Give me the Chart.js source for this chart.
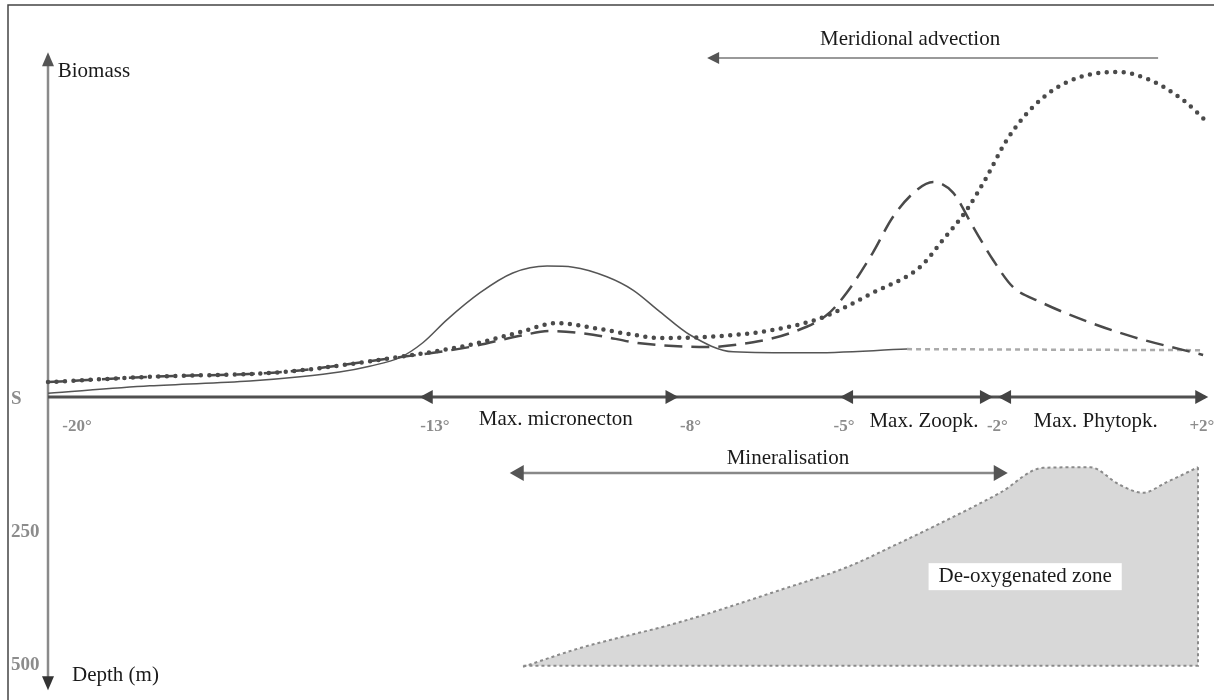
<!DOCTYPE html>
<html>
<head>
<meta charset="utf-8">
<title>Biomass maxima and de-oxygenated zone</title>
<script src="https://cdn.jsdelivr.net/npm/chart.js@4.4.1/dist/chart.umd.min.js"></script>
<style>
  html, body { margin: 0; padding: 0; background: #fff; }
  #wrap { width: 1214px; height: 700px; position: relative; }
</style>
</head>
<body>
<div id="wrap"><canvas id="myChart"></canvas></div>
<script>
// latitude in degrees, biomass in relative units (same vertical units as depth in m)
var micronectonLat = [-20.43, -18.44, -16.48, -15.50, -14.73, -14.14, -13.55, -13.10, -12.63, -11.98, -11.34, -10.67, -10.16, -9.50, -8.99, -8.46, -7.88, -7.03, -5.59, -3.63];
var micronectonBio = [7, 21, 30, 38, 47, 58, 74, 102, 145, 196, 233, 246, 244, 226, 201, 160, 117, 85, 83, 90];
var micronectonTailLat = [-3.63, 2.16];
var micronectonTailBio = [90, 88];

var zoopkLat = [-20.43, -18.44, -15.84, -13.94, -12.18, -11.20, -10.61, -9.77, -8.85, -7.54, -6.64, -5.92, -5.20, -4.81, -4.30, -3.91, -3.44, -3.12, -2.73, -2.34, -1.95, -1.56, -1.03, -0.19, 0.79, 2.16];
var zoopkBio = [28, 38, 47, 70, 94, 115, 124, 117, 101, 94, 103, 120, 154, 196, 271, 338, 389, 404, 384, 320, 258, 207, 179, 145, 113, 79];

var phytopkLat = [-20.43, -18.44, -15.84, -13.94, -12.18, -11.20, -10.48, -9.77, -8.99, -8.46, -7.54, -6.25, -5.27, -4.30, -3.38, -2.93, -2.46, -2.07, -1.68, -1.17, -0.50, 0.48, 1.12, 1.77, 2.26];
var phytopkBio = [28, 38, 47, 70, 98, 122, 139, 130, 117, 111, 113, 126, 150, 196, 244, 295, 352, 414, 483, 545, 592, 611, 596, 558, 515];

// upper limit of the de-oxygenated zone (depth, m)
var zoneLat = [-11.14, -10.03, -8.07, -6.12, -4.81, -3.77, -3.12, -1.81, -0.97, -0.05, 0.53, 0.98, 1.45, 2.06];
var zoneTop = [507, 472, 423, 363, 320, 274, 244, 180, 133, 132, 165, 180, 160, 132];
var zoneBottom = 505;

// arrows
var axisStart = -20.43, axisEnd = 2.2;
var axisHeadLat = [-13.16, -8.1, -4.94, -1.95, -1.85, 2.26];
var axisHeadDir = [-1, 1, -1, 1, -1, 1];
var biomassTop = 648, depthBottom = 551;
var advectionLat = [-7.54, 1.28], advectionLevel = 637;
var mineralLat = [-11.40, -1.66], mineralDepth = 143;

var latTicks = [-20, -13, -8, -5, -2, 2];
var latTickLabels = ["-20°", "-13°", "-8°", "-5°", "-2°", "+2°"];
var depthTicks = [0, 250, 500];
var depthTickLabels = ["S", "250", "500"];

function pts(xs, ys) {
  return xs.map(function (x, i) { return { x: x, y: ys[i] }; });
}

var notes = [
  { text: "Biomass", x: -20.24, y: 601, align: "left" },
  { text: "Depth (m)", x: -19.96, y: -534, align: "left" },
  { text: "Meridional advection", x: -3.57, y: 662, align: "center" },
  { text: "Max. micronecton", x: -10.50, y: -53, align: "center" },
  { text: "Max. Zoopk.", x: -3.30, y: -56, align: "center" },
  { text: "Max. Phytopk.", x: 0.06, y: -56, align: "center" },
  { text: "Mineralisation", x: -5.96, y: -126, align: "center" },
  { text: "De-oxygenated zone", x: -1.32, y: -348, align: "center", box: true }
];

function head(ctx, x, y, ang, len, half, color) {
  var c = Math.cos(ang), s = Math.sin(ang);
  ctx.beginPath();
  ctx.moveTo(x, y);
  ctx.lineTo(x - len * c - half * s, y - len * s + half * c);
  ctx.lineTo(x - len * c + half * s, y - len * s - half * c);
  ctx.closePath();
  ctx.fillStyle = color;
  ctx.fill();
}

var sketch = {
  id: "sketch",
  beforeDraw: function (chart) {
    var ctx = chart.ctx;
    ctx.save();
    ctx.strokeStyle = "#444";
    ctx.lineWidth = 1.5;
    ctx.beginPath();
    ctx.moveTo(8, 700);
    ctx.lineTo(8, 5);
    ctx.lineTo(1214, 5);
    ctx.stroke();
    ctx.restore();
  },
  afterDatasetsDraw: function (chart) {
    var ctx = chart.ctx, xs = chart.scales.x, ys = chart.scales.y;
    ctx.save();
    // arrow heads
    axisHeadLat.forEach(function (lat, i) {
      head(ctx, xs.getPixelForValue(lat), ys.getPixelForValue(0), axisHeadDir[i] > 0 ? 0 : Math.PI, 13, 7, "#444");
    });
    var ax = xs.getPixelForValue(axisStart);
    head(ctx, ax, ys.getPixelForValue(biomassTop), -Math.PI / 2, 14, 6, "#555");
    head(ctx, ax, ys.getPixelForValue(-depthBottom), Math.PI / 2, 14, 6, "#333");
    head(ctx, xs.getPixelForValue(advectionLat[0]), ys.getPixelForValue(advectionLevel), Math.PI, 12, 6, "#555");
    head(ctx, xs.getPixelForValue(mineralLat[0]), ys.getPixelForValue(-mineralDepth), Math.PI, 14, 8, "#555");
    head(ctx, xs.getPixelForValue(mineralLat[1]), ys.getPixelForValue(-mineralDepth), 0, 14, 8, "#555");

    // depth tick labels
    ctx.font = "bold 19px 'Liberation Serif'";
    ctx.fillStyle = "#8c8c8c";
    ctx.textAlign = "left";
    ctx.textBaseline = "middle";
    depthTicks.forEach(function (d, i) {
      ctx.fillText(depthTickLabels[i], 11, ys.getPixelForValue(-d) + 2);
    });

    // annotations
    ctx.font = "21px 'Liberation Serif'";
    ctx.textBaseline = "alphabetic";
    notes.forEach(function (n) {
      var px = xs.getPixelForValue(n.x), py = ys.getPixelForValue(n.y);
      ctx.textAlign = n.align;
      if (n.box) {
        var w = ctx.measureText(n.text).width + 20;
        ctx.fillStyle = "#fff";
        ctx.fillRect(px - w / 2, py - 19, w, 27);
      }
      ctx.fillStyle = "#1a1a1a";
      ctx.fillText(n.text, px, py);
    });
    ctx.restore();
  }
};

document.addEventListener("DOMContentLoaded", function () {
  var ctx = document.getElementById("myChart").getContext("2d");

  var plain = { pointRadius: 0, fill: false, clip: false, tension: 0 };

  var chartData = {
    datasets: [
      Object.assign({}, plain, {
        label: "Phytoplankton",
        data: pts(phytopkLat, phytopkBio),
        borderColor: "#4a4a4a",
        borderWidth: 4.5,
        borderDash: [0, 8.5],
        borderCapStyle: "round",
        cubicInterpolationMode: "monotone"
      }),
      Object.assign({}, plain, {
        label: "Zooplankton",
        data: pts(zoopkLat, zoopkBio),
        borderColor: "#4a4a4a",
        borderWidth: 2.5,
        borderDash: [18, 9],
        cubicInterpolationMode: "monotone"
      }),
      Object.assign({}, plain, {
        label: "Micronecton",
        data: pts(micronectonLat, micronectonBio),
        borderColor: "#555",
        borderWidth: 1.5,
        cubicInterpolationMode: "monotone"
      }),
      Object.assign({}, plain, {
        label: "Micronecton (extrapolated)",
        data: pts(micronectonTailLat, micronectonTailBio),
        borderColor: "#aaa",
        borderWidth: 2.5,
        borderDash: [5, 4]
      }),
      Object.assign({}, plain, {
        label: "Latitude axis",
        data: pts([axisStart, axisEnd], [0, 0]),
        borderColor: "#505050",
        borderWidth: 3
      }),
      Object.assign({}, plain, {
        label: "Vertical axis",
        data: pts([axisStart, axisStart], [biomassTop - 8, -depthBottom + 8]),
        borderColor: "#8a8a8a",
        borderWidth: 2.5
      }),
      Object.assign({}, plain, {
        label: "Meridional advection",
        data: pts([advectionLat[0] + 0.15, advectionLat[1]], [advectionLevel, advectionLevel]),
        borderColor: "#999",
        borderWidth: 2
      }),
      Object.assign({}, plain, {
        label: "Mineralisation",
        data: pts([mineralLat[0] + 0.15, mineralLat[1] - 0.15], [-mineralDepth, -mineralDepth]),
        borderColor: "#888",
        borderWidth: 2.5
      }),
      Object.assign({}, plain, {
        label: "Zone edge",
        data: pts([zoneLat[zoneLat.length - 1], zoneLat[zoneLat.length - 1], zoneLat[0]],
                  [-zoneTop[zoneTop.length - 1], -zoneBottom, -zoneBottom]),
        borderColor: "#8a8a8a",
        borderWidth: 2,
        borderDash: [3, 3]
      }),
      {
        label: "De-oxygenated zone",
        data: pts(zoneLat, zoneTop.map(function (d) { return -d; })),
        pointRadius: 0,
        clip: false,
        borderColor: "#8a8a8a",
        borderWidth: 2,
        borderDash: [3, 3],
        backgroundColor: "#d8d8d8",
        fill: { value: -zoneBottom },
        cubicInterpolationMode: "monotone"
      }
    ]
  };

  var myChart = new Chart(ctx, {
    type: "line",
    data: chartData,
    options: {
      responsive: true,
      maintainAspectRatio: false,
      animation: false,
      layout: { padding: { left: 48, right: 0, top: 0, bottom: 0 } },
      plugins: { legend: { display: false }, tooltip: { enabled: false } },
      scales: {
        x: {
          type: "linear",
          min: -20.43,
          max: 2.373,
          position: { y: 0 },
          grid: { display: false, drawTicks: false },
          border: { display: false },
          afterBuildTicks: function (s) {
            s.ticks = latTicks.map(function (v) { return { value: v }; });
          },
          afterFit: function (s) { s.paddingLeft = 0; s.paddingRight = 0; },
          ticks: {
            autoSkip: false,
            maxRotation: 0,
            padding: 19,
            labelOffset: 7,
            color: "#8c8c8c",
            font: { family: "Liberation Serif", size: 17, weight: "bold" },
            callback: function (v) { return latTickLabels[latTicks.indexOf(v)]; }
          }
        },
        y: {
          type: "linear",
          display: false,
          min: -569.5,
          max: 746.2
        }
      }
    },
    plugins: [sketch]
  });
});
</script>
</body>
</html>
